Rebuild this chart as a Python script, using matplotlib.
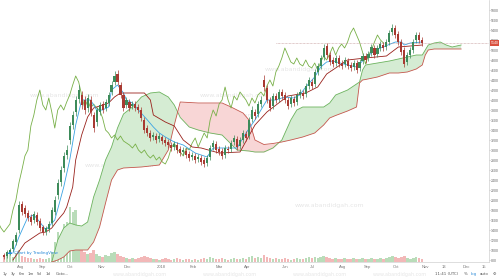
import matplotlib.pyplot as plt
import numpy as np
from matplotlib.transforms import blended_transform_factory

# one entry per bar
opens = [900, 880, 940, 1020, 1160, 1400, 1920, 1840, 1740, 1660,
         1600, 1700, 1580, 1460, 1360, 1420, 1540, 1760, 2100, 2360,
         2640, 2900, 3200, 3500, 3760, 4020, 4100, 4000, 3840, 4000,
         3700, 3560, 3760, 3920, 3840, 3940, 4160, 4360, 4520, 4300,
         4100, 3900, 3960, 3880, 3920, 3860, 3800, 3600, 3440, 3340,
         3260, 3280, 3220, 3260, 3200, 3160, 3100, 3060, 3100, 3020,
         2960, 2980, 2920, 2860, 2880, 2820, 2840, 2800, 2740, 2860,
         3060, 3120, 3020, 2980, 2900, 3020, 3020, 3160, 3220, 3080,
         3200, 3320, 3280, 3620, 3760, 3720, 3920, 4400, 4240, 4000,
         3880, 4080, 4020, 4160, 4100, 4000, 3920, 4020, 3960, 4100,
         4140, 4120, 4280, 4360, 4320, 4560, 4680, 4860, 5080, 4900,
         4800, 4740, 4840, 4740, 4720, 4780, 4700, 4660, 4740, 4640,
         4780, 4880, 4840, 4940, 5040, 4920, 5040, 5100, 5060, 5160,
         5360, 5440, 5320, 5160, 5000, 4760, 4900, 5000, 5200, 5300,
         5200]
closes = [860, 960, 1000, 1180, 1300, 1900, 1760, 1720, 1640, 1560,
          1720, 1560, 1440, 1360, 1440, 1520, 1800, 2000, 2340, 2600,
          2880, 3000, 3480, 3700, 4000, 4200, 3900, 3800, 4040, 3760,
          3440, 3800, 3900, 3800, 3960, 4100, 4300, 4480, 4360, 4100,
          3840, 4000, 3840, 3920, 3840, 3800, 3640, 3400, 3340, 3240,
          3300, 3200, 3280, 3180, 3140, 3100, 3040, 3120, 3000, 2940,
          3000, 2900, 2840, 2900, 2800, 2860, 2760, 2720, 2840, 3040,
          3140, 3000, 2960, 2880, 3040, 3000, 3140, 3240, 3060, 3200,
          3340, 3240, 3600, 3800, 3680, 3920, 4000, 4260, 4000, 3840,
          4080, 4000, 4160, 4080, 4000, 3880, 4040, 3940, 4100, 4160,
          4080, 4280, 4400, 4280, 4560, 4680, 4840, 5040, 4900, 4760,
          4720, 4840, 4720, 4680, 4800, 4680, 4640, 4740, 4600, 4760,
          4880, 4800, 4920, 5060, 4900, 5040, 5120, 5040, 5160, 5340,
          5440, 5300, 5160, 4960, 4720, 4900, 5000, 5160, 5300, 5200,
          5140]
highs = [940, 1000, 1040, 1220, 1360, 1980, 1980, 1900, 1800, 1720,
         1780, 1760, 1640, 1500, 1480, 1580, 1860, 2080, 2420, 2680,
         2960, 3100, 3560, 3780, 4080, 4300, 4180, 4080, 4120, 4080,
         3760, 3860, 3960, 3980, 4020, 4160, 4380, 4580, 4600, 4360,
         4160, 4060, 4020, 3980, 3980, 3920, 3860, 3660, 3500, 3400,
         3360, 3340, 3340, 3300, 3260, 3220, 3160, 3180, 3160, 3080,
         3060, 3040, 2980, 2960, 2940, 2920, 2900, 2860, 2900, 3100,
         3200, 3180, 3080, 3040, 3100, 3080, 3200, 3300, 3280, 3260,
         3400, 3380, 3660, 3880, 3820, 3980, 4080, 4500, 4300, 4060,
         4140, 4140, 4220, 4220, 4160, 4060, 4100, 4080, 4160, 4220,
         4200, 4340, 4460, 4420, 4620, 4740, 4900, 5120, 5140, 4960,
         4860, 4900, 4900, 4800, 4860, 4840, 4760, 4800, 4800, 4820,
         4940, 4940, 4980, 5120, 5100, 5100, 5180, 5160, 5220, 5400,
         5520, 5500, 5380, 5220, 5060, 4960, 5060, 5220, 5360, 5360,
         5260]
lows = [820, 840, 900, 980, 1100, 1340, 1700, 1660, 1580, 1500,
        1540, 1500, 1380, 1300, 1300, 1360, 1480, 1700, 2020, 2280,
        2560, 2820, 3120, 3420, 3680, 3940, 3820, 3720, 3760, 3680,
        3360, 3480, 3700, 3740, 3780, 3880, 4100, 4300, 4300, 4040,
        3780, 3840, 3780, 3820, 3780, 3740, 3580, 3340, 3280, 3180,
        3200, 3140, 3160, 3120, 3080, 3040, 2980, 3000, 2940, 2880,
        2900, 2840, 2780, 2800, 2740, 2760, 2700, 2660, 2680, 2800,
        3000, 2940, 2900, 2820, 2840, 2940, 2960, 3100, 3000, 3020,
        3140, 3180, 3220, 3560, 3620, 3660, 3860, 4180, 3940, 3780,
        3820, 3940, 3960, 4020, 3940, 3820, 3860, 3880, 3900, 4040,
        4020, 4060, 4220, 4220, 4260, 4500, 4620, 4800, 4840, 4700,
        4660, 4680, 4660, 4620, 4660, 4620, 4580, 4600, 4540, 4580,
        4720, 4740, 4780, 4880, 4840, 4860, 4980, 4980, 5000, 5100,
        5300, 5240, 5100, 4900, 4660, 4700, 4840, 4940, 5140, 5140,
        5080]
volumes = [350, 300, 400, 250, 450, 600, 300, 250, 200, 200,
           150, 150, 200, 150, 150, 200, 500, 1000, 1500, 1400,
           1900, 2000, 2750, 2500, 2600, 1600, 900, 500, 400, 450,
           600, 400, 300, 250, 350, 300, 450, 500, 400, 300,
           250, 200, 150, 200, 150, 200, 250, 300, 250, 200,
           150, 150, 100, 150, 200, 150, 100, 150, 200, 150,
           100, 150, 150, 100, 150, 100, 150, 200, 150, 250,
           200, 150, 150, 200, 150, 100, 150, 200, 150, 150,
           200, 150, 250, 300, 200, 250, 200, 350, 250, 200,
           150, 200, 150, 150, 200, 150, 100, 150, 200, 150,
           150, 200, 250, 200, 250, 200, 250, 300, 250, 200,
           150, 200, 150, 150, 200, 150, 150, 200, 150, 150,
           200, 150, 150, 200, 150, 150, 200, 150, 200, 250,
           300, 250, 200, 250, 300, 200, 150, 200, 250, 200,
           150]

# ichimoku lines (bar index, price)
tenkan_x = [3, 5, 8, 10, 12, 14, 17, 20, 22, 24, 26, 29, 31, 33, 35, 36, 38, 40, 41, 43,
            45, 48, 50, 52, 54, 57, 60, 64, 68, 70, 78, 81, 84, 86, 88, 91, 94, 97, 99, 101,
            104, 106, 108, 110, 115, 118, 121, 123, 126, 131, 133, 134, 136, 140]
tenkan = [940, 1260, 1660, 1700, 1560, 1400, 1600, 2260, 2800, 3500, 4000, 4000, 3800, 3800,
          3860, 4200, 4300, 4140, 4000, 3940, 3800, 3600, 3460, 3340, 3260, 3160, 3100, 2940,
          2860, 3040, 3040, 3340, 3600, 3800, 4000, 4000, 4060, 4040, 4100, 4260, 4460, 4660,
          4760, 4780, 4700, 4660, 4840, 4940, 5040, 5160, 5160, 5100, 5140, 5160]
kijun_x = [3, 7, 10, 12, 14, 16, 18, 20, 21, 23, 24, 26, 28, 30, 35, 37, 39, 47, 49, 50,
           54, 57, 60, 63, 66, 72, 79, 84, 88, 95, 101, 105, 108, 115, 121, 128, 132, 140]
kijun = [800, 1140, 1260, 1340, 1360, 1440, 1600, 1740, 1860, 2260, 2800, 3300, 3660, 3840,
         3940, 4060, 4140, 4140, 4000, 3700, 3560, 3480, 3200, 3060, 3040, 2940, 2960, 3500,
         3760, 4080, 4140, 4260, 4520, 4800, 4840, 4880, 5060, 5100]
cloud_x = [16, 18, 20, 22, 24, 26, 28, 30, 32, 34, 36, 38, 40, 43, 46, 49, 52, 55, 57, 59,
           62, 65, 69, 73, 76, 78, 80, 82, 84, 87, 90, 93, 96, 98, 100, 104, 107, 109, 111, 115,
           118, 119, 120, 121, 125, 129, 132, 135, 138, 140, 141, 142, 144, 146, 148, 150, 153]
span_a = [760, 1200, 1440, 1540, 1500, 1480, 1560, 2060, 2400, 2800, 3060, 3440, 3720, 3860,
          4060, 4140, 4160, 4060, 3900, 3650, 3460, 3400, 3340, 3300, 3120, 3000, 2990, 2980,
          2960, 2960, 3040, 3200, 3600, 3800, 3860, 3860, 3860, 3940, 4100, 4200, 4320, 4360,
          4600, 4700, 4740, 4780, 4820, 4860, 4900, 4900, 5000, 5100, 5140, 5160, 5100, 5060, 5100]
span_b = [760, 800, 860, 980, 1000, 1000, 1000, 1160, 1460, 1940, 2400, 2600, 2640, 2650,
          2660, 2680, 2700, 3000, 3500, 3960, 3950, 3940, 3940, 3940, 3860, 3800, 3740, 3600,
          3200, 3110, 3130, 3160, 3200, 3230, 3260, 3340, 3500, 3640, 3690, 3780, 3860, 4340,
          4400, 4410, 4460, 4540, 4540, 4560, 4620, 4700, 4900, 5000, 5020, 5020, 5020, 5020, 5020]
lag = 13

date_pos = [5.7, 13, 22, 32.7, 41.3, 52.7, 63.3, 72, 81.3, 94.3, 103.3, 113.3, 121.7,
            131.3, 141, 147.3, 154.7, 160.5]
date_labels = ['Aug', 'Sep', 'Oct', 'Nov', 'Dec', '2018', 'Feb', 'Mar', 'Apr', 'Jun', 'Jul',
               'Aug', 'Sep', 'Oct', 'Nov', '13', 'Dec', '15']
last_price = closes[-1]

up_color = '#3d8b5a'
down_color = '#a83a32'
axis_font = 'Liberation Sans'

bars = np.arange(len(closes))
o = np.array(opens)
c = np.array(closes)
up = c >= o
colors = np.where(up, up_color, down_color)
vol_colors = np.where(up, '#b9dcb9', '#f2b8b8')

fig = plt.figure(figsize=(5, 2.8), dpi=100)
ax = fig.add_axes([0, 18 / 280, 489 / 500, 262 / 280])
ax2 = ax.twinx()
ax.set_zorder(ax2.get_zorder() + 1)
ax.patch.set_visible(False)

# volume
ax2.bar(bars, volumes, width=0.8, color=vol_colors, lw=0)
ax2.set_ylim(0, 13100)
ax2.set_yticks([])
for s in ax2.spines.values():
    s.set_visible(False)

# cloud
sa = np.array(span_a)
sb = np.array(span_b)
ax.fill_between(cloud_x, sa, sb, where=sa >= sb, interpolate=True, color='#d5ecd3', lw=0, zorder=1)
ax.fill_between(cloud_x, sa, sb, where=sa < sb, interpolate=True, color='#f8d6d6', lw=0, zorder=1)
ax.plot(cloud_x, span_a, color='#6cb35e', lw=0.6, zorder=2)
ax.plot(cloud_x, span_b, color='#c4564c', lw=0.6, zorder=2)

# lagging span
ax.plot(bars - lag, closes, color='#78b048', lw=0.6, zorder=2)
ax.plot(kijun_x, kijun, color='#99211b', lw=0.6, zorder=3)
ax.plot(tenkan_x, tenkan, color='#3aa3e3', lw=0.6, zorder=3)

# candles
ax.vlines(bars, lows, highs, colors=colors, lw=0.5, zorder=4)
ax.bar(bars, c - o, bottom=o, width=0.7, color=colors, lw=0, zorder=5)

# last price line + label
ax.hlines(last_price, 91, 163, colors='#c49a9a', lw=0.5, linestyles=(0, (1, 1)), zorder=3)
tr = blended_transform_factory(ax.transAxes, ax.transData)
ax.text(1.003, last_price, f'{last_price}', transform=tr, fontsize=2.5, color='white',
        family=axis_font, va='center', ha='left', zorder=10, clip_on=False,
        bbox=dict(facecolor='#d9503e', edgecolor='none', pad=0.5))

ax.set_xlim(-1.33, 162.33)
ax.set_ylim(760, 6000)
ax.yaxis.tick_right()
ax.set_yticks(range(800, 6000, 200))
ax.tick_params(axis='y', labelsize=2.5, length=1, width=0.4, pad=0.4, colors='#999', labelcolor='#666')
ax.set_xticks(date_pos, date_labels)
ax.tick_params(axis='x', labelsize=3, length=0, pad=2, labelcolor='#777')
for lab in ax.get_yticklabels() + ax.get_xticklabels():
    lab.set_family(axis_font)
for side in ['top', 'left']:
    ax.spines[side].set_visible(False)
for side in ['right', 'bottom']:
    ax.spines[side].set_color('#d0d0d0')
    ax.spines[side].set_linewidth(0.5)

# watermarks
for wx, wy in [(65, 95), (235, 95), (220, 115), (300, 70), (120, 165), (330, 205)]:
    fig.text(wx / 500, 1 - wy / 280, 'www.abandidgah.com', fontsize=4.5, color='#e6e6e6',
             ha='center', va='center', zorder=0)
for wx in [140, 230, 320, 400]:
    fig.text(wx / 500, 1 - 274.5 / 280, 'www.abandidgah.com', fontsize=3.5, color='#e6e6e6',
             ha='center', va='center', zorder=0)

# tradingview badge and toolbar
fig.text(7 / 500, 1 - 253 / 280, '\u2601', fontsize=4, color='#2a8ad8', va='center')
fig.text(14 / 500, 1 - 253 / 280, 'Chart by TradingView', fontsize=3, color='#2a8ad8', va='center')
for tx, t in [(5, '1y'), (13, '3y'), (22, '6m'), (31, '1m'), (39, '5d'), (48, '1d'), (62, 'Goto...')]:
    fig.text(tx / 500, 1 - 274 / 280, t, fontsize=2.8, color='#555', ha='center', va='center')
for tx, t, col in [(447, '11:41 (UTC)', '#555'), (466, '%', '#555'), (474, 'log', '#2a8ad8'),
                   (484, 'auto', '#555'), (494, '\u2699', '#555')]:
    fig.text(tx / 500, 1 - 274 / 280, t, fontsize=2.8, color=col, ha='center', va='center')

fig.savefig('out.png', dpi=100)
